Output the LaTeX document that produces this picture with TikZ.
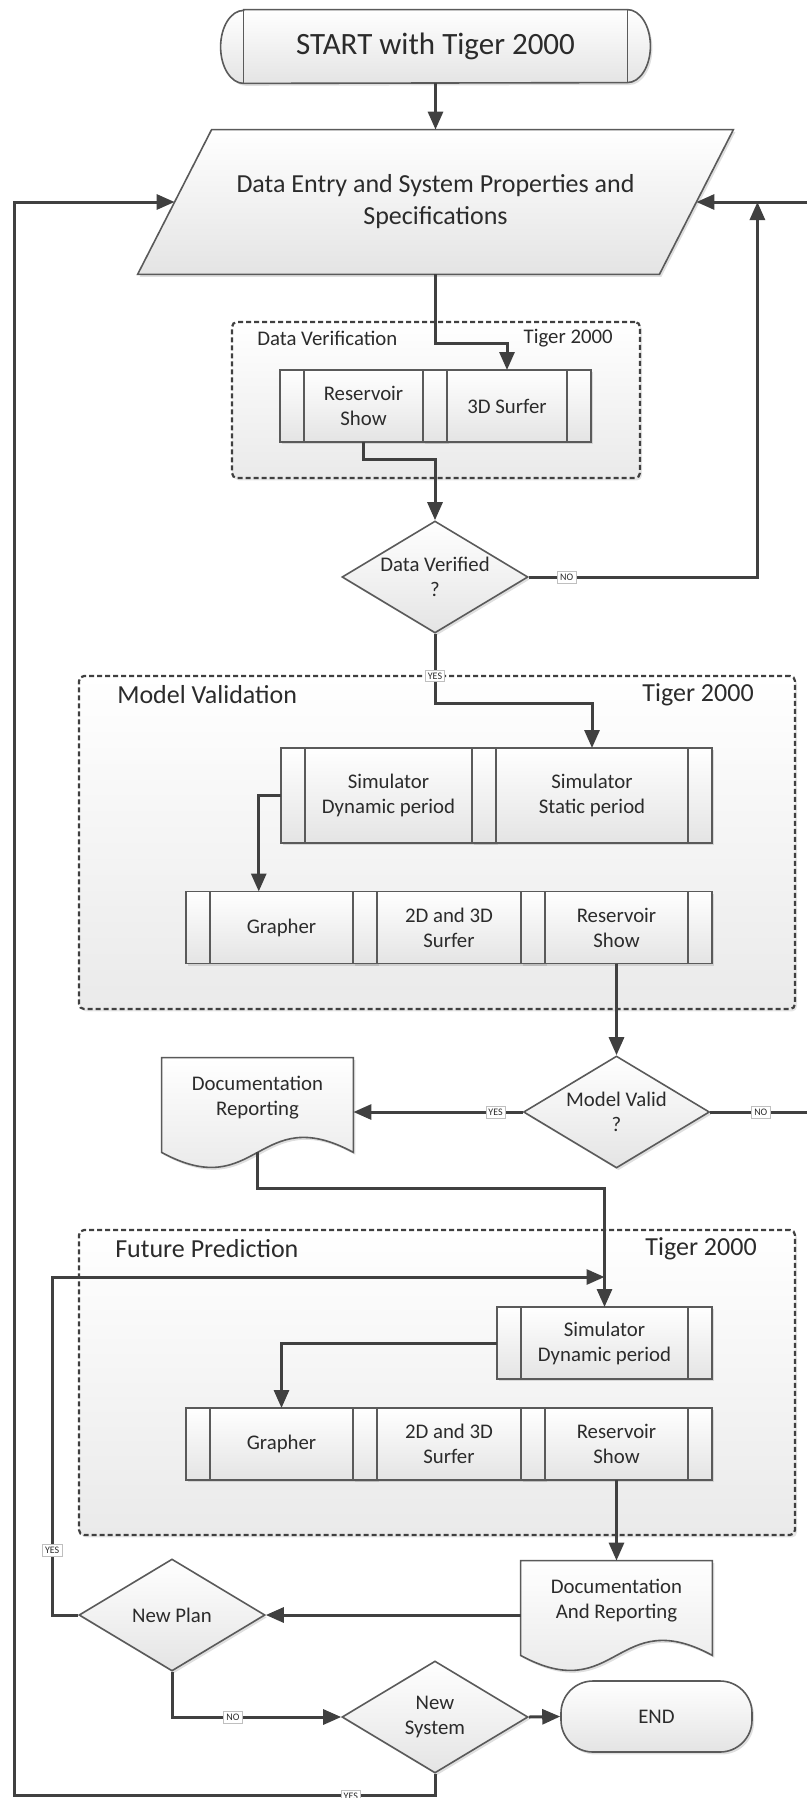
\documentclass[tikz,border=0pt]{standalone}
\usepackage{fontspec}
\setmainfont{Carlito}
\usepackage{tikz}
\usetikzlibrary{arrows.meta, backgrounds, calc, positioning, shadows, shapes.geometric}
\usepackage{xcolor}
\definecolor{LineGray}{HTML}{404040}
\definecolor{EdgeGray}{HTML}{5A5A5A}
\definecolor{TextGray}{HTML}{2B2B2B}
\definecolor{ShadeGray}{HTML}{E4E4E4}
\definecolor{GroupGray}{HTML}{EAEAEA}
\tikzset{%
  flow_shape/.style={%
    draw=EdgeGray,%
    line width=0.8pt,%
    top color=white,%
    bottom color=ShadeGray,%
    drop shadow={shadow xshift=1pt, shadow yshift=-1.2pt, opacity=0.25},%
  },
  flow_text/.style={%
    text=TextGray,%
    font={\fontsize{10.4}{12.5}\selectfont},%
    align=center,%
    inner sep=0pt,%
  },
  process_block/.style={%
    rectangle,%
    flow_shape,%
    flow_text,%
    outer sep=0pt,%
    minimum height=36pt,%
    path picture={%
      \draw [EdgeGray, line width=0.8pt]
        ([xshift=12pt]path picture bounding box.north west)
        --
        ([xshift=12pt]path picture bounding box.south west)
        ([xshift=-12pt]path picture bounding box.north east)
        --
        ([xshift=-12pt]path picture bounding box.south east);
    },%
  },
  decision/.style={%
    diamond,%
    flow_shape,%
    flow_text,%
    aspect=1.66,%
    minimum width=93pt,%
    minimum height=56pt,%
  },
  terminal/.style={%
    rectangle,%
    rounded corners=16pt,%
    flow_shape,%
    flow_text,%
    minimum width=95.5pt,%
    minimum height=35.5pt,%
  },
  group_area/.style={%
    rectangle,%
    draw=LineGray,%
    line width=1.1pt,%
    dash pattern=on 2.5pt off 1.5pt,%
    rounded corners=2.5pt,%
    top color=white,%
    bottom color=GroupGray,%
    drop shadow={shadow xshift=1pt, shadow yshift=-1.2pt, opacity=0.2},%
  },
  group_title/.style={%
    text=TextGray,%
    font={\fontsize{13}{15}\selectfont},%
    inner sep=0pt,%
  },
  group_title_small/.style={%
    group_title,%
    font={\fontsize{10.4}{12}\selectfont},%
  },
  flow_path/.style={%
    draw=LineGray,%
    line width=1.5pt,%
  },
  arrow/.style={-{Triangle[length=9pt, width=7.5pt]}},
  yes_no/.style={%
    fill=white,%
    draw=black!25,%
    line width=0.3pt,%
    inner sep=1.3pt,%
    text=TextGray,%
    font={\fontsize{5}{6}\selectfont},%
  },
}

\begin{document}
\begin{tikzpicture}[x=0.5pt, y=-0.5pt]
  \useasboundingbox (0,0) rectangle (807,1798);

  \node [flow_text, font={\fontsize{15.5}{18}\selectfont},
    minimum width=191.5pt, minimum height=36.5pt] (start) at (435.5,46.5) {%
    START with Tiger 2000%
  };
  \node [flow_text, font={\fontsize{13}{16}\selectfont},
    minimum width=260.5pt, minimum height=72pt] (entry) at (435.5,202) {%
    Data Entry and System Properties and\\Specifications%
  };

  \node [group_area, minimum width=204pt, minimum height=78pt] (dvgroup) at (436,400) {};
  \node [group_title_small, anchor=west] (dvtitle) at ($(dvgroup.north west)+(26,17)$) {Data Verification};
  \node [group_title_small, anchor=east] (dvtiger) at ($(dvgroup.north east)+(-28,17)$) {Tiger 2000};
  \node [process_block, minimum width=83.5pt] (rshowa) at (363.5,406) {Reservoir\\Show};
  \node [process_block, minimum width=84pt, right=-12pt of rshowa] (surfa) {3D Surfer};

  \node [decision] (dverified) at (435,577) {Data Verified\\?};

  \node [group_area, minimum width=358pt, minimum height=166.5pt] (mvgroup) at (437,842.5) {};
  \node [group_title, anchor=west] (mvtitle) at ($(mvgroup.north west)+(39,20)$) {Model Validation};
  \node [group_title, anchor=east] (mvtiger) at ($(mvgroup.north east)+(-42,20)$) {Tiger 2000};
  \node [process_block, minimum width=107.5pt, minimum height=47.5pt] (dyna) at (388.5,795.5) {%
    Simulator\\Dynamic period%
  };
  \node [process_block, minimum width=120pt, minimum height=47.5pt, right=-12pt of dyna] (stata) {%
    Simulator\\Static period%
  };
  \node [process_block, minimum width=95.75pt] (grapha) at (281.5,927.5) {Grapher};
  \node [process_block, minimum width=95.75pt, right=-12pt of grapha] (surfb) {2D and 3D\\Surfer};
  \node [process_block, minimum width=95.75pt, right=-12pt of surfb] (rshowb) {Reservoir\\Show};

  \node [decision] (mvalid) at (616.5,1112) {Model Valid\\?};
  \node [flow_text, minimum width=95.5pt, minimum height=39.5pt] (docone) at (257.5,1097.5) {%
    Documentation\\Reporting%
  };

  \node [group_area, minimum width=358pt, minimum height=152.5pt] (fpgroup) at (437,1382.5) {};
  \node [group_title, anchor=west] (fptitle) at ($(fpgroup.north west)+(37,20)$) {Future Prediction};
  \node [group_title, anchor=east] (fptiger) at ($(fpgroup.north east)+(-39,20)$) {Tiger 2000};
  \node [process_block, minimum width=107.5pt] (dynb) at (604.5,1343) {Simulator\\Dynamic period};
  \node [process_block, minimum width=95.75pt] (graphb) at (281.5,1444) {Grapher};
  \node [process_block, minimum width=95.75pt, right=-12pt of graphb] (surfc) {2D and 3D\\Surfer};
  \node [process_block, minimum width=95.75pt, right=-12pt of surfc] (rshowc) {Reservoir\\Show};

  \node [flow_text, minimum width=95.5pt, minimum height=39.5pt] (doctwo) at (616.5,1600.5) {%
    Documentation\\And Reporting%
  };
  \node [decision] (newplan) at (172,1615) {New Plan};
  \node [decision] (newsys) at (435,1717) {New\\System};
  \node [terminal] (endnode) at (656.5,1716.5) {END};

  \begin{scope}[on background layer]
    \path [flow_shape]
      (start.north west) -- (start.north east)
      arc [start angle=90, end angle=-90, x radius=11.5pt, y radius=18.25pt]
      -- (start.south west)
      arc [start angle=270, end angle=90, x radius=11.5pt, y radius=18.25pt]
      -- cycle;
    \path [flow_shape]
      ($(entry.north west)+(37,0)$) -- ($(entry.north east)+(37,0)$)
      -- ($(entry.south east)+(-37,0)$) -- ($(entry.south west)+(-37,0)$) -- cycle;
    \path [flow_shape]
      (docone.north west) -- (docone.north east) -- ($(docone.south east)+(0,15)$)
      .. controls ($(docone.south)+(0,-37)$) and ($(docone.south)+(0,67)$) ..
      ($(docone.south west)+(0,15)$) -- cycle;
    \path [flow_shape]
      (doctwo.north west) -- (doctwo.north east) -- ($(doctwo.south east)+(0,15)$)
      .. controls ($(doctwo.south)+(0,-37)$) and ($(doctwo.south)+(0,67)$) ..
      ($(doctwo.south west)+(0,15)$) -- cycle;
  \end{scope}
  \draw [EdgeGray, line width=0.8pt]
    (start.north west) -- (start.south west)
    (start.north east) -- (start.south east);

  \draw [flow_path, arrow] (start.south) -- (entry.north);
  \draw [flow_path, arrow] (entry.south) -- ++(0,69) -| (surfa.north);
  \draw [flow_path, arrow] (rshowa.south) -- ++(0,17) -| (dverified.north);
  \draw [flow_path, arrow]
    (dverified.east) -| node [yes_no, pos=0.083] {NO} ($(entry.east)+(61,0)$);
  \draw [flow_path, arrow]
    (dverified.south) -- node [yes_no, pos=0.6] {YES} ++(0,70) -| (stata.north);
  \draw [flow_path, arrow] (dyna.west) -| ($(grapha.north west)+(73,0)$);
  \draw [flow_path, arrow] (rshowb.south) -- (mvalid.north);
  \draw [flow_path, arrow]
    (mvalid.west) -- node [yes_no, pos=0.16] {YES} (mvalid.west -| docone.east);
  \draw [flow_path, arrow]
    (mvalid.east) -- node [yes_no] {NO} ++(101,0) |- (entry.east);
  \draw [flow_path, arrow] ($(docone.south)+(0,15)$) -- ++(0,36) -| (dynb.north);
  \draw [flow_path, arrow] (dynb.west) -| (graphb.north);
  \draw [flow_path, arrow] (rshowc.south) -- (doctwo.north);
  \draw [flow_path, arrow] (newplan.east -| doctwo.west) -- (newplan.east);
  \draw [flow_path, arrow]
    (newplan.west) -- ++(-26,0) |- node [yes_no, pos=0.096] {YES} ($(dynb.north)+(0,-30)$);
  \draw [flow_path, arrow]
    (newplan.south) |- node [yes_no, pos=0.68] {NO} (newsys.west);
  \draw [flow_path, arrow] (newsys.east) -- (endnode.west);
  \draw [flow_path, arrow]
    (newsys.south) -- ++(0,22) -- node [yes_no, pos=0.2] {YES} ++(-421,0) |- (entry.west);
\end{tikzpicture}
\end{document}
